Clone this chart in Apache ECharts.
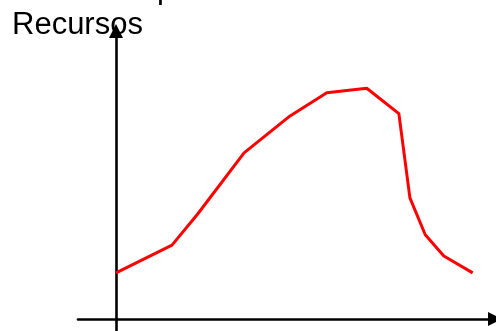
<!DOCTYPE html>
<html>
<head>
<meta charset="utf-8">
<style>
  html, body { margin: 0; padding: 0; background: #fff; }
  #chart { width: 496px; height: 331px; }
</style>
<script src="https://cdn.jsdelivr.net/npm/echarts@6/dist/echarts.min.js"></script>
</head>
<body>
<div id="chart"></div>
<script>
// Resource usage over time (arbitrary units)
const tiempo   = [0, 15.7, 22.9, 35.9, 48.8, 59.1, 70.3, 79.3, 82.4, 86.7, 91.9, 100];
const recursos = [20, 32, 45.5, 72, 88, 98, 100, 89, 52.5, 36.5, 27.3, 20];
const yLabel = 'Recursos';

const chart = echarts.init(document.getElementById('chart'), null, { renderer: 'canvas' });

const axisStyle = {
  show: true,
  onZero: true,
  symbol: ['none', 'triangle'],
  symbolSize: [14, 14],
  lineStyle: { color: '#000', width: 2.6 }
};

chart.setOption({
  animation: false,
  grid: { left: 78, right: 1, top: 31, bottom: 0, containLabel: false },
  xAxis: {
    type: 'value',
    min: -10.65,
    max: 106.25,
    axisLine: axisStyle,
    axisTick: { show: false },
    axisLabel: { show: false },
    splitLine: { show: false }
  },
  yAxis: {
    type: 'value',
    min: -5.2,
    max: 124.8,
    axisLine: axisStyle,
    axisTick: { show: false },
    axisLabel: { show: false },
    splitLine: { show: false }
  },
  series: [{
    type: 'line',
    data: tiempo.map((t, i) => [t, recursos[i]]),
    showSymbol: false,
    lineStyle: { color: '#ff0000', width: 3 },
    z: 1
  }],
  graphic: [
    {
      type: 'text',
      left: 12,
      top: 10,
      z: 0,
      style: { text: yLabel, font: '31px "Liberation Sans", Arial, sans-serif', fill: '#000' }
    },
    {
      type: 'text',
      left: 157,
      top: -26,
      style: { text: 'p', font: '31px "Liberation Sans", Arial, sans-serif', fill: '#000' }
    }
  ]
});
</script>
</body>
</html>
